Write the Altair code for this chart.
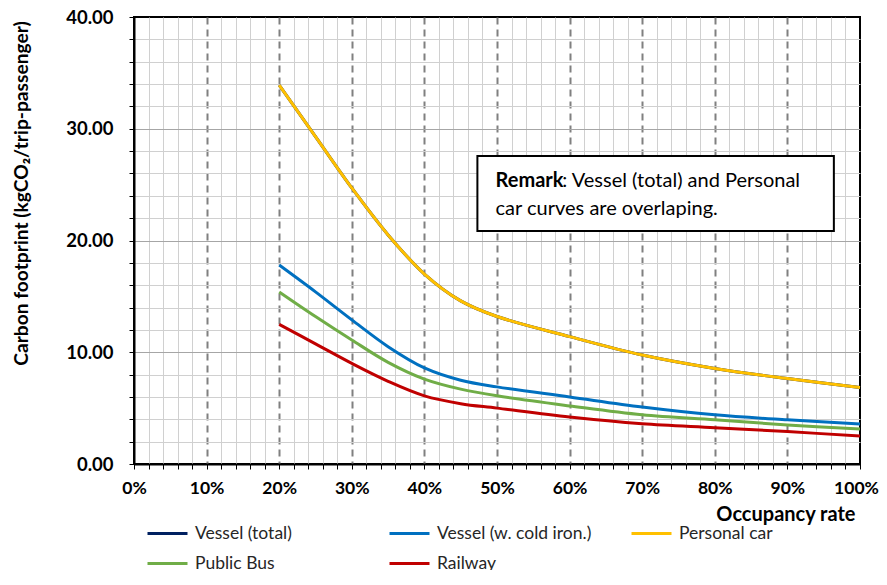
import altair as alt
import pandas as pd

# ---------------- data ----------------
occupancy = [20, 25, 30, 35, 40, 45, 50, 60, 70, 80, 90, 100]  # %
vessel_total = [33.9, 29.3, 24.7, 20.5, 17.0, 14.6, 13.2, 11.4, 9.75, 8.55, 7.65, 6.85]
vessel_cold_iron = [17.8, 15.4, 12.9, 10.5, 8.6, 7.5, 6.9, 6.0, 5.1, 4.4, 3.95, 3.58]
personal_car = [33.9, 29.3, 24.7, 20.5, 17.0, 14.6, 13.2, 11.4, 9.75, 8.55, 7.65, 6.85]
public_bus = [15.4, 13.2, 11.1, 9.1, 7.6, 6.7, 6.1, 5.2, 4.4, 3.95, 3.5, 3.13]
railway = [12.5, 10.75, 9.0, 7.4, 6.1, 5.4, 5.0, 4.2, 3.6, 3.25, 2.9, 2.5]

series_names = ["Vessel (total)", "Vessel (w. cold iron.)", "Personal car", "Public Bus", "Railway"]
series_colors = ["#002060", "#0070C0", "#FFC000", "#70AD47", "#C00000"]
series_values = [vessel_total, vessel_cold_iron, personal_car, public_bus, railway]

x_ticks = list(range(0, 101, 2))
y_ticks = list(range(0, 41, 2))

remark_bold = "Remark"
remark_line1 = ": Vessel (total) and Personal"
remark_line2 = "car curves are overlaping."

rows = []
for name, vals in zip(series_names, series_values):
    for o, v in zip(occupancy, vals):
        rows.append({"occ": o, "cf": v, "series": name})
df = pd.DataFrame(rows)

box_df = pd.DataFrame([{"x": 47.3, "x2": 96.4, "y": 20.86, "y2": 27.57}])
bold_df = pd.DataFrame([{"x": 49.8, "y": 24.8, "t": remark_bold}])
norm_df = pd.DataFrame([
    {"x": 59.0, "y": 24.8, "t": remark_line1},
    {"x": 49.8, "y": 22.3, "t": remark_line2},
])

FONT = "Lato"

x_axis = alt.Axis(
    values=x_ticks,
    tickCount=200,
    labelExpr="datum.value % 10 === 0 ? datum.value + '%' : ''",
    labelOverlap=False,
    labelFlush=False,
    labelFont=FONT, labelFontSize=17.5, labelFontWeight="bold", labelColor="black",
    labelPadding=10,
    labelOffset={"condition": {"test": "datum.value >= 100", "value": -4}, "value": 0},
    tickSize=5, tickColor="black", tickWidth=1,
    domainColor="black", domainWidth=2,
    grid=True,
    gridColor={"condition": {"test": "datum.value % 10 === 0", "value": "#808080"}, "value": "#d0d0d0"},
    gridDash={"condition": {"test": "datum.value % 10 === 0", "value": [7, 5]}, "value": []},
    gridWidth={"condition": {"test": "datum.value % 10 === 0", "value": 2}, "value": 1},
    gridOpacity={"condition": {"test": "datum.value >= 100 || datum.value <= 0", "value": 0}, "value": 1},
    title="Occupancy rate",
    titleFont=FONT, titleFontSize=20, titleFontWeight="bold", titleColor="black",
    titleX=721, titleY=50, titleAlign="right", titleBaseline="middle",
)

y_axis = alt.Axis(
    values=y_ticks,
    tickCount=200,
    labelExpr="datum.value % 10 === 0 ? format(datum.value, '.2f') : ''",
    labelOverlap=False,
    labelFlush=False,
    labelFont=FONT, labelFontSize=18.5, labelFontWeight="bold", labelColor="black",
    labelPadding=16,
    tickSize=5, tickColor="black", tickWidth=1,
    domainColor="black", domainWidth=2,
    grid=True,
    gridColor={"condition": {"test": "datum.value % 10 === 0", "value": "#a6a6a6"}, "value": "#d0d0d0"},
    gridOpacity={"condition": {"test": "datum.value >= 40 || datum.value <= 0", "value": 0}, "value": 1},
    gridWidth=1,
    title="Carbon footprint (kgCO₂/trip-passenger)",
    titleFont=FONT, titleFontSize=19.2, titleFontWeight="bold", titleColor="black",
    titleX=-113, titleY=176, titleAngle=270, titleAlign="center", titleBaseline="middle",
)

x_enc = alt.X("occ:Q", scale=alt.Scale(domain=[0, 100], nice=False, zero=False), axis=x_axis)
y_enc = alt.Y("cf:Q", scale=alt.Scale(domain=[0, 40], nice=False), axis=y_axis)

color_enc = alt.Color(
    "series:N",
    scale=alt.Scale(domain=series_names, range=series_colors),
    sort=series_names,
    legend=alt.Legend(
        orient="none", legendX=12, legendY=495,
        direction="horizontal", columns=3, gridAlign="all",
        columnPadding=33, rowPadding=0, padding=0,
        symbolType="stroke", symbolSize=1600, symbolStrokeWidth=3,
        labelFont=FONT, labelFontSize=17.5, labelColor="#262626",
        labelOffset=6, labelLimit=400, title=None,
    ),
)

base = alt.Chart(df)
line_total = base.transform_filter(alt.datum.series == "Vessel (total)").mark_line(
    strokeWidth=3, interpolate="catmull-rom"
).encode(x=x_enc, y=y_enc, color=color_enc)
line_rest = base.transform_filter(alt.datum.series != "Vessel (total)").mark_line(
    strokeWidth=3, interpolate="catmull-rom"
).encode(x=x_enc, y=y_enc, color=color_enc)

box = alt.Chart(box_df).mark_rect(fill="white", stroke="black", strokeWidth=2).encode(
    x="x:Q", x2="x2:Q", y="y:Q", y2="y2:Q"
)
text_bold = alt.Chart(bold_df).mark_text(
    font=FONT, fontSize=20, fontWeight="bold", align="left", baseline="alphabetic", color="black"
).encode(x="x:Q", y="y:Q", text="t:N")
text_norm = alt.Chart(norm_df).mark_text(
    font=FONT, fontSize=20, align="left", baseline="alphabetic", color="black"
).encode(x="x:Q", y="y:Q", text="t:N")

chart = alt.layer(line_total, line_rest, box, text_bold, text_norm).properties(
    width=726, height=447,
    background="white",
    autosize=alt.AutoSizeParams(type="none"),
    padding={"left": 126, "top": 9, "right": 19, "bottom": 106},
).configure_view(stroke="black", strokeWidth=2)

chart.save("out.html", embed_options={"renderer": "svg", "actions": False})
